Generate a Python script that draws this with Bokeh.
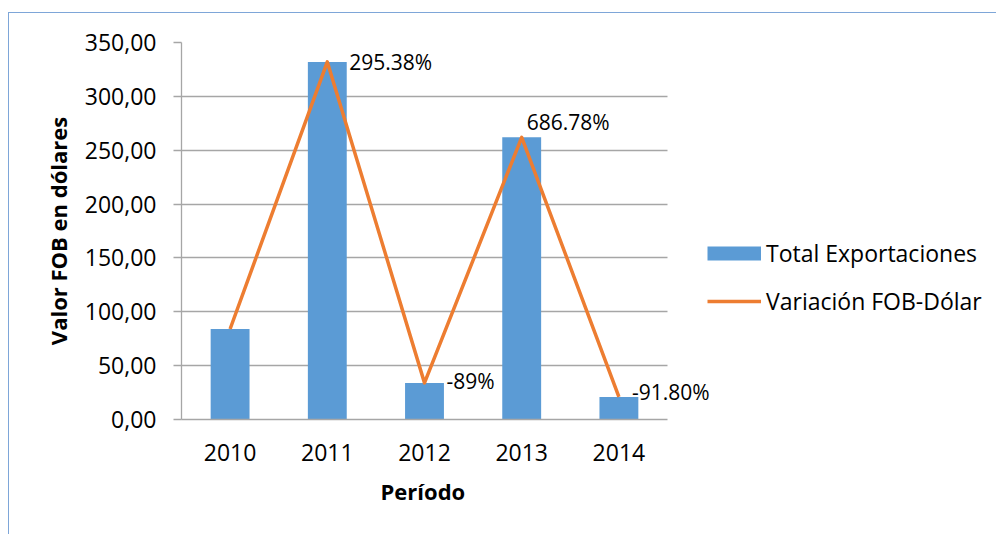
import numpy as np
from bokeh.plotting import figure
from bokeh.models import (ColumnDataSource, FixedTicker, Legend, LegendItem, Range1d,
                          InlineStyleSheet, Title)
from bokeh.core.properties import value
from bokeh.embed import file_html
from bokeh.resources import INLINE

# ---- data ----
years = ["2010", "2011", "2012", "2013", "2014"]
exports = [84, 332, 34, 262, 21]
variation_labels = ["", "295.38%", "-89%", "686.78%", "-91.80%"]
y_ticks = [0, 50, 100, 150, 200, 250, 300, 350]
y_tick_labels = ["0,00", "50,00", "100,00", "150,00", "200,00", "250,00", "300,00", "350,00"]

# label placement offsets (screen px)
label_dx = [0, 22, 22, 5, 13]
label_dy = [0, 0.5, -1.5, -15.5, -5]

FONT = "Open Sans"
GRID = "#A6A6A6"
BLUE = "#5B9BD5"
ORANGE = "#ED7D31"

# layout constants
W, H = 988, 522
MB_L, MB_R, MB_T, MB_B = 172, 12, 29, 116
FRAME_W = W - MB_L - MB_R
CAT_PX = 486 / len(years)          # width of one category slot in pixels

pos = list(range(len(years)))      # category slot index of each year
src = ColumnDataSource(dict(pos=pos, exports=exports, lab=variation_labels,
                            dx=label_dx, dy=label_dy))

p = figure(x_range=Range1d(-0.5, -0.5 + FRAME_W / CAT_PX), y_range=(0, 350),
           width=W, height=H, output_backend="svg", toolbar_location=None,
           min_border_left=MB_L, min_border_right=MB_R,
           min_border_top=MB_T, min_border_bottom=MB_B)
p.outline_line_color = None
p.background_fill_color = "white"
p.border_fill_color = "white"
p.stylesheets = [InlineStyleSheet(css=":host { margin-left: 8px; margin-top: 12px; "
                                      "border-left: 1px solid #7EA6D8; "
                                      "border-top: 1px solid #7EA6D8; }")]

bars = p.vbar(x="pos", top="exports", width=0.4, source=src,
              fill_color=BLUE, line_color=None)
line = p.line(x="pos", y="exports", source=src, line_color=ORANGE,
              line_width=3.5, line_join="round")
p.text(x="pos", y="exports", text="lab", source=src, x_offset="dx", y_offset="dy",
       text_align="left", text_baseline="middle", text_font=value(FONT),
       text_font_size="21px", text_color="#000000")
# legend swatch for the bar series (a thick flat line, nothing drawn in the plot)
bar_swatch = p.line(x=[np.nan], y=[np.nan], line_color=BLUE, line_width=14,
                    line_cap="butt")

# axes
p.xgrid.grid_line_color = None
p.ygrid.grid_line_color = GRID
p.ygrid.grid_line_width = 1.3
p.ygrid.cross_bounds = (-0.5, len(years) - 0.5)
p.yaxis.ticker = FixedTicker(ticks=y_ticks)
p.yaxis.major_label_overrides = {t: l for t, l in zip(y_ticks, y_tick_labels)}
p.yaxis.major_tick_out = 8
p.yaxis.major_tick_in = 0
p.yaxis.minor_tick_line_color = None
p.yaxis.major_tick_line_color = GRID
p.yaxis.axis_line_color = GRID
p.yaxis.major_label_standoff = 17
p.yaxis.axis_label = "Valor FOB en dólares"
p.yaxis.axis_label_standoff = 9

p.xaxis.ticker = FixedTicker(ticks=pos)
p.xaxis.major_label_overrides = {i: y for i, y in zip(pos, years)}
p.xaxis.bounds = (-0.5, len(years) - 0.5)
p.xaxis.major_tick_line_color = None
p.xaxis.minor_tick_line_color = None
p.xaxis.major_tick_out = 0
p.xaxis.major_tick_in = 0
p.xaxis.axis_line_color = GRID
p.xaxis.major_label_standoff = 24

for ax in (p.xaxis[0], p.yaxis[0]):
    ax.axis_line_width = 1.3
    ax.major_tick_line_width = 1.3
    ax.major_label_text_font = FONT
    ax.major_label_text_font_size = "23px"
    ax.major_label_text_color = "#000000"
    ax.axis_label_text_font = FONT
    ax.axis_label_text_font_size = "22px"
    ax.axis_label_text_font_style = "bold"
    ax.axis_label_text_color = "#000000"

# x-axis title, centred under the five categories (not under the whole frame)
x_title = Title(text="Período", align="left", offset=199, standoff=20,
                text_font=FONT, text_font_size="22px", text_font_style="bold",
                text_color="#000000")
p.add_layout(x_title, "below")

# legend
leg = Legend(items=[LegendItem(label="Total Exportaciones", renderers=[bar_swatch]),
                    LegendItem(label="Variación FOB-Dólar", renderers=[line])],
             location=(526, 102), glyph_width=54, glyph_height=30, label_height=30,
             label_standoff=5, padding=0, margin=0, spacing=16,
             border_line_color=None, background_fill_alpha=0,
             label_text_font=FONT, label_text_font_size="23px",
             label_text_color="#000000")
p.add_layout(leg)

open("out.html", "w").write(file_html(p, INLINE))
